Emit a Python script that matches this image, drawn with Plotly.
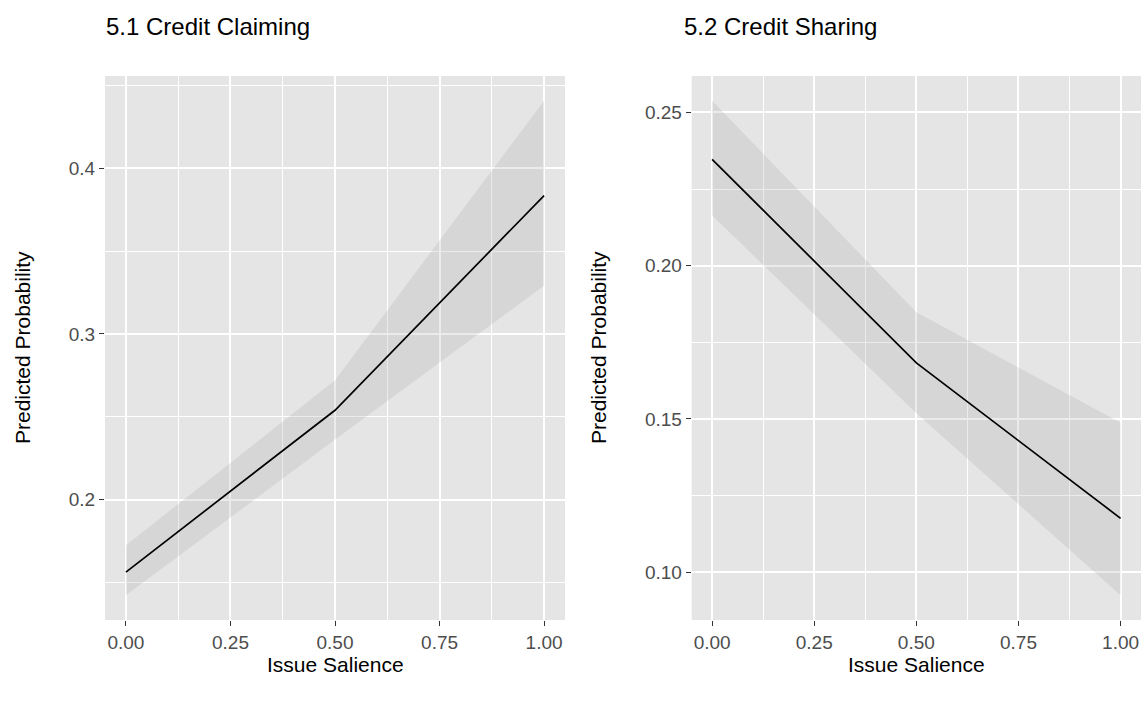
import plotly.graph_objects as go

# Issue salience levels (x) and predicted probabilities with 95% bounds
salience = [0.0, 0.5, 1.0]

claim_pred = [0.1564, 0.2540, 0.3835]
claim_lo = [0.1424, 0.2363, 0.3291]
claim_hi = [0.1725, 0.2721, 0.4407]

share_pred = [0.2347, 0.1683, 0.1176]
share_lo = [0.2164, 0.1519, 0.0925]
share_hi = [0.2538, 0.1848, 0.1488]

x_ticks = [0.0, 0.25, 0.5, 0.75, 1.0]
x_tick_text = ["0.00", "0.25", "0.50", "0.75", "1.00"]
claim_y_ticks = [0.2, 0.3, 0.4]
claim_y_text = ["0.2", "0.3", "0.4"]
share_y_ticks = [0.10, 0.15, 0.20, 0.25]
share_y_text = ["0.10", "0.15", "0.20", "0.25"]

W, H = 1141, 701
FONT = "Liberation Sans, Arial, Helvetica, sans-serif"
PANEL_BG = "#E5E5E5"
RIBBON = "rgba(153,153,153,0.2)"


def px_x(p):
    return p / W


def px_y(p):
    return 1 - p / H


def padded(lo, hi, frac=0.05):
    span = hi - lo
    return [lo - frac * span, hi + frac * span]


fig = go.Figure()

panels = [
    ("x", "y", claim_pred, claim_lo, claim_hi),
    ("x2", "y2", share_pred, share_lo, share_hi),
]
for xa, ya, pred, lo, hi in panels:
    fig.add_trace(go.Scatter(
        x=salience + salience[::-1],
        y=hi + lo[::-1],
        fill="toself", fillcolor=RIBBON, line=dict(width=0),
        mode="lines", hoverinfo="skip", showlegend=False,
        xaxis=xa, yaxis=ya,
    ))
    fig.add_trace(go.Scatter(
        x=salience, y=pred, mode="lines",
        line=dict(color="black", width=1.7),
        showlegend=False, xaxis=xa, yaxis=ya,
    ))

tick_font = dict(family=FONT, size=19, color="#4D4D4D")
x_common = dict(
    range=padded(0, 1), tickmode="array", tickvals=x_ticks, ticktext=x_tick_text,
    ticks="outside", ticklen=5, tickwidth=1.2, tickcolor="#333333",
    tickfont=tick_font,
    showgrid=True, gridcolor="white", gridwidth=1.8,
    minor=dict(dtick=0.25, tick0=0.125, showgrid=True, gridcolor="white", gridwidth=0.9),
    zeroline=False, showline=False, fixedrange=True,
)
y_common = dict(
    tickmode="array",
    ticks="outside", ticklen=5, tickwidth=1.2, tickcolor="#333333",
    tickfont=tick_font,
    showgrid=True, gridcolor="white", gridwidth=1.8,
    zeroline=False, showline=False, fixedrange=True,
)

top, bottom = 76, 620
fig.update_layout(
    width=W, height=H,
    margin=dict(l=0, r=0, t=0, b=0),
    paper_bgcolor="white", plot_bgcolor=PANEL_BG,
    showlegend=False,
    xaxis=dict(domain=[px_x(105), px_x(565)], anchor="y", **x_common),
    xaxis2=dict(domain=[px_x(691.7), 1.0], anchor="y2", **x_common),
    yaxis=dict(domain=[px_y(bottom), px_y(top)], anchor="x",
               range=padded(min(claim_lo), max(claim_hi)),
               tickvals=claim_y_ticks, ticktext=claim_y_text,
               minor=dict(dtick=0.1, tick0=0.05, showgrid=True, gridcolor="white", gridwidth=0.9),
               **y_common),
    yaxis2=dict(domain=[px_y(bottom), px_y(top)], anchor="x2",
                range=padded(min(share_lo), max(share_hi)),
                tickvals=share_y_ticks, ticktext=share_y_text,
                minor=dict(dtick=0.05, tick0=0.025, showgrid=True, gridcolor="white", gridwidth=0.9),
                **y_common),
)

# Panel titles and axis titles
title_font = dict(family=FONT, size=24, color="black")
axis_font = dict(family=FONT, size=21, color="black")
notes = [
    dict(text="5.1 Credit Claiming", x=px_x(104), y=px_y(27), xanchor="left", yanchor="middle", font=title_font),
    dict(text="5.2 Credit Sharing", x=px_x(682), y=px_y(27), xanchor="left", yanchor="middle", font=title_font),
    dict(text="Issue Salience", x=px_x(335), y=px_y(664), xanchor="center", yanchor="middle", font=axis_font),
    dict(text="Issue Salience", x=px_x(916), y=px_y(664), xanchor="center", yanchor="middle", font=axis_font),
    dict(text="Predicted Probability", x=px_x(22), y=px_y(348), xanchor="center", yanchor="middle",
         textangle=-90, font=axis_font),
    dict(text="Predicted Probability", x=px_x(598), y=px_y(348), xanchor="center", yanchor="middle",
         textangle=-90, font=axis_font),
]
for n in notes:
    fig.add_annotation(xref="paper", yref="paper", showarrow=False, **n)

fig.write_html("out.html")
